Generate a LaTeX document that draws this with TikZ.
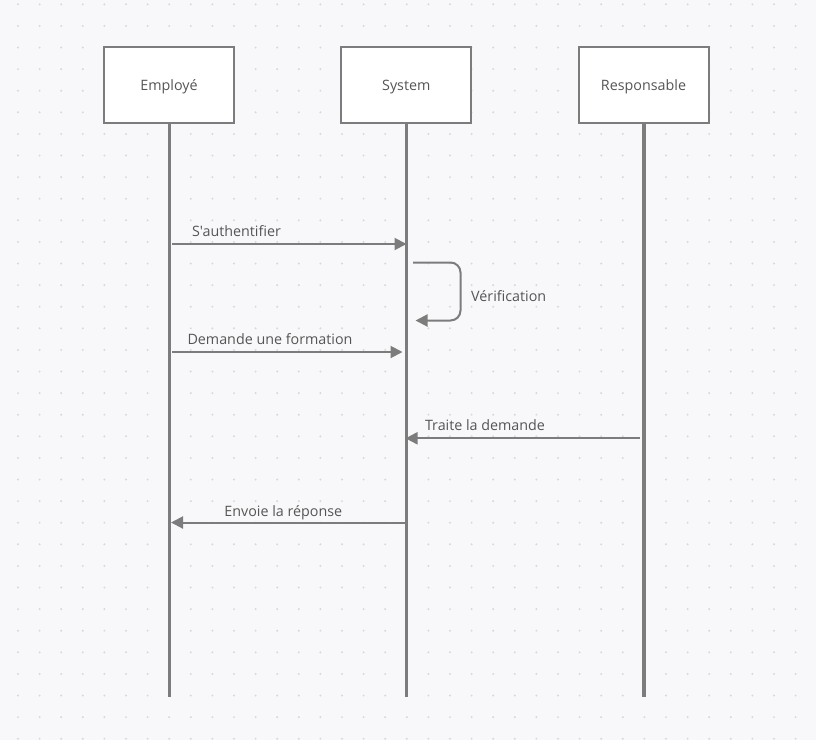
\documentclass[tikz,border=0pt]{standalone}
\usepackage{fontspec}
\newfontfamily\plainf{Open Sans}
\usetikzlibrary{arrows.meta}
\definecolor{bg}{HTML}{F8F8FA}
\definecolor{dotc}{HTML}{D8D8DD}
\definecolor{linec}{HTML}{7C7C7C}
\definecolor{txt}{HTML}{555555}
\begin{document}
\begin{tikzpicture}[x=1pt,y=-1pt,
  actor/.style={draw=linec, line width=2pt, fill=white, minimum width=130pt, minimum height=75.5pt, inner sep=0pt},
  life/.style={draw=linec, line width=3.5pt},
  msg/.style={draw=linec, line width=2pt, -{Triangle[length=12pt,width=12pt]}},
  lbl/.style={text=txt, font=\plainf\fontsize{14.3}{16}\selectfont, inner sep=0pt}]
\fill[bg] (0,0) rectangle (816,740);
\useasboundingbox (0,0) rectangle (816,740);
\foreach \i in {0,...,37}
  \foreach \j in {0,...,34}
    \fill[dotc] ({18+\i*21.6},{4.3+\j*21.6}) circle (1.1);
% actors
\node[actor] (emp) at (169,85) {};
\node[actor] (sys) at (406.3,85) {};
\node[actor] (resp) at (643.5,85) {};
\node[lbl] (empT) at ([yshift=-2pt]emp.center) {Employé};
\node[lbl] (sysT) at ([yshift=-2pt]sys.center) {System};
\node[lbl] (respT) at ([yshift=-2pt]resp.center) {Responsable};
% lifeline ends
\coordinate (empEnd) at (169.5,697);
\coordinate (sysEnd) at (406.5,697);
\coordinate (respEnd) at (643.8,697);
\draw[life] (emp.south -| empEnd) -- (empEnd);
\draw[life] (sys.south -| sysEnd) -- (sysEnd);
\draw[life] (resp.south -| respEnd) -- (respEnd);
% messages
\coordinate (m1s) at (172,244);
\coordinate (m1e) at (406.5,244);
\draw[msg] (m1s) -- (m1e);
\node[lbl] (l1) at (236.5,231) {S'authentifier};
\coordinate (v1) at (413,262.5);
\coordinate (v2) at (415.5,320.5);
\draw[msg, rounded corners=10pt] (v1) -- (460.5,262.5) -- (460.5,320.5) -- (v2);
\node[lbl, anchor=west] (l2) at (471,296) {Vérification};
\coordinate (m3s) at (172,352);
\coordinate (m3e) at (402.5,352);
\draw[msg] (m3s) -- (m3e);
\node[lbl] (l3) at (270,339) {Demande une formation};
\coordinate (m4s) at (639.5,438.3);
\coordinate (m4e) at (405.5,438.3);
\draw[msg] (m4s) -- (m4e);
\node[lbl] (l4) at (485,425) {Traite la demande};
\coordinate (m5s) at (405,522.5);
\coordinate (m5e) at (171,522.5);
\draw[msg] (m5s) -- (m5e);
\node[lbl] (l5) at (283.3,513) {Envoie la réponse};
\end{tikzpicture}
\end{document}
